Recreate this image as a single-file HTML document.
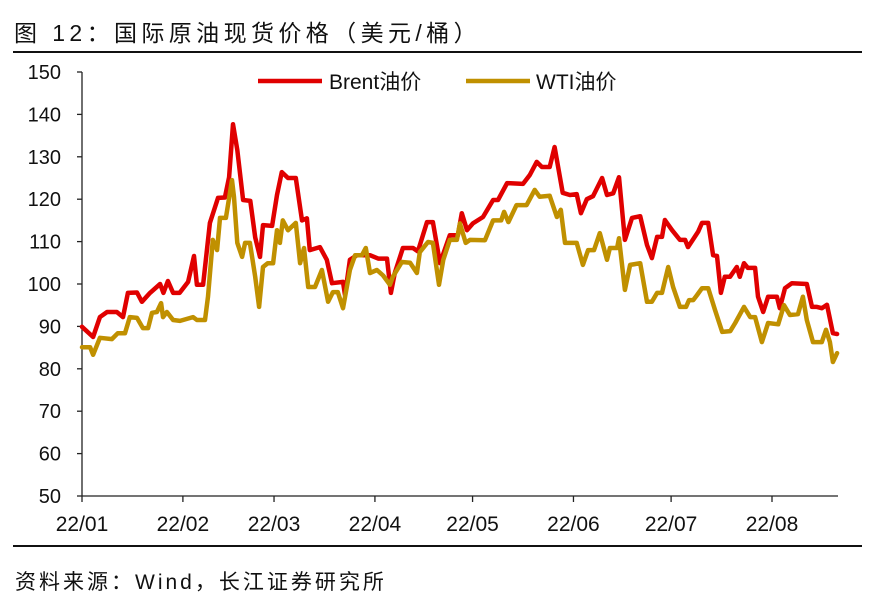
<!DOCTYPE html>
<html><head><meta charset="utf-8">
<style>
body{margin:0;background:#fff;width:878px;height:609px;overflow:hidden;font-family:"Liberation Sans","Noto Sans CJK SC",sans-serif;}
svg text{font-family:"Liberation Sans","Noto Sans CJK SC",sans-serif;}
</style></head>
<body>
<svg id="chart" width="878" height="609">
  <text x="14" y="41" font-size="23" letter-spacing="4.4" fill="#111">图 12：国际原油现货价格（美元/桶）</text>
  <line x1="13" y1="52" x2="862" y2="52" stroke="#111" stroke-width="2"/>
  <line x1="13" y1="546" x2="862" y2="546" stroke="#111" stroke-width="2"/>
  <text x="15" y="589" font-size="21" letter-spacing="3" fill="#111">资料来源：Wind，长江证券研究所</text>
  <g id="axes"></g>
  <g id="series"></g>
  <g>
    <line x1="258" y1="81" x2="322" y2="81" stroke="#e00000" stroke-width="4.5"/>
    <text x="329" y="89" font-size="21" fill="#111">Brent油价</text>
    <line x1="466" y1="81" x2="530" y2="81" stroke="#c09000" stroke-width="4.5"/>
    <text x="536" y="89" font-size="21" fill="#111">WTI油价</text>
  </g>
</svg>
<script>
const yTicks=[50,60,70,80,90,100,110,120,130,140,150];
const monthLabels=["22/01","22/02","22/03","22/04","22/05","22/06","22/07","22/08"];
const monthDays=[0,31,59,90,120,151,181,212];
const brentDays=[0,3.4,5.5,7.7,10.7,12.6,14.1,16.9,18.4,20.9,24,25,26.4,28,30,32.6,34.4,35.3,37.2,39.3,41.8,43.9,45.2,46.4,47.7,49.5,51.7,53.2,54.7,55.6,58.4,59.9,61.4,63.3,65.7,67.6,69.1,70,73.1,75.2,76.8,80.2,80.8,82.3,84.5,88.5,91,93.7,94.9,96.1,98.6,101.7,103.2,106,107.8,110,113,115.5,116.7,118.3,120.1,123.2,126.3,127.8,130.6,135.5,137.6,139.7,141.3,143.7,145.2,147.7,149.9,152,153.3,155.1,157,159.8,161.3,163.2,165,166.8,169,171.5,173.6,175.1,176.7,178.2,179.1,181.3,183.7,185.3,186.2,189.3,190.5,192.4,193.9,195.1,196.3,197.5,199.1,201.2,202.1,203.4,204.6,206.8,207.7,209.3,210.8,213.5,214.4,216,218.1,222.7,224.3,225.8,227.3,228.9,230.7,232];
const brentVals=[89.9,87.5,92.2,93.4,93.4,92.2,97.9,98,95.8,97.9,100,97.9,100.7,97.9,97.9,100.5,106.6,99.8,99.8,114.4,120.3,120.4,125.2,137.7,131.6,119.8,119.6,111,106.4,113.9,113.7,121,126.4,125,125,115,115.5,108,108.7,105.7,100.2,100.5,97.4,105.7,106.8,106.8,106,106,97.9,102.6,108.5,108.5,107.7,114.6,114.6,104.9,111.5,111.5,116.7,112.7,114.3,115.8,119.8,119.8,123.8,123.6,125.7,128.8,127.6,127.6,132.3,121.5,121,121.2,116.7,120,120.7,125,121,121.4,125.2,110.4,115.6,116,109.2,106.1,111.1,111.1,115.1,112.7,110.4,110.4,108.7,112.3,114.4,114.4,106.8,106.6,97.9,101.7,101.7,104,101.7,104.9,103.8,103.8,97,93.4,97,97,94.3,99,100.2,100,94.6,94.6,94.3,95.1,88.4,88.2];
const wtiDays=[0,2.5,3.4,5.5,9.2,11,13.2,14.7,16.9,18.7,20.3,21.5,23,24.3,24.9,26.1,28,30.1,34.1,35.3,37.8,38.7,40.2,41.5,42.4,44.2,46.1,46.7,47.7,49.2,50.1,51.6,53.2,54.4,55.6,57.1,58.7,59.9,60.8,61.7,63.3,65.7,67,68.2,69.5,71.6,73.7,75.6,77.1,78.6,80.2,82.3,83.9,86,87.2,88.5,90.6,92.5,94.6,95.5,98.3,100.8,102.9,103.8,106.3,107.8,109.7,111,113,115.2,116.1,117.9,119.2,123.8,126.3,128.8,129.7,131,133.5,136.6,139.1,140.6,143.7,145.9,147.1,148.4,152,153.9,155.5,157.3,159.1,161.3,162.2,164.4,165,166.8,168.4,171.5,173.6,175.1,176.7,178.2,180.1,181.6,183.7,185.6,186.5,187.8,189,190.5,192.4,194.5,196.7,199.2,200.7,203.4,205.3,206.8,208.9,210.8,213.9,215.7,217.5,220,221.5,222.7,224.6,227.3,228.6,229.8,230.7,232];
const wtiVals=[85.1,85.1,83.3,87.3,87,88.4,88.4,92.2,92,89.6,89.6,93.2,93.4,95.5,92.2,93.4,91.5,91.3,92.2,91.5,91.5,97,110.4,108,115.6,115.6,124.5,120.5,109.7,106.4,109.7,109.7,101.7,94.6,104,104.9,104.9,112.7,109.7,115,112.7,114.4,104.9,108.5,99.3,99.3,103.3,95.8,98.1,98.1,94.3,103.3,106.8,106.8,108.5,102.6,103.3,102,99.8,101.7,105.2,105,102.6,107.5,109.9,109.7,99.8,105.7,110.4,110.4,114.3,109.7,110.4,110.3,115,115,117,114.6,118.6,118.6,122.2,120.6,120.8,115.8,117.5,109.7,109.7,104.5,108,108,112,105.7,108.5,108.5,110.8,98.6,104.5,104.9,95.8,95.8,97.9,97.9,104,99.3,94.6,94.6,96.2,96.2,97.4,99,99,93.9,88.7,88.9,90.8,94.6,92.2,92.2,86.3,90.8,90.5,95,92.7,92.9,97,91.5,86.3,86.3,89.2,86.3,81.6,83.7];

const NS="http://www.w3.org/2000/svg";
const X0=82,Y0=496,YT=72;
const xScale=d=>X0+d*(690/212);
const yScale=v=>Y0-(v-50)*(Y0-YT)/100;
const axes=document.getElementById('axes');
const series=document.getElementById('series');
function mk(tag,attrs,parent){const e=document.createElementNS(NS,tag);for(const k in attrs)e.setAttribute(k,attrs[k]);parent.appendChild(e);return e;}

const ya=mk('line',{x1:X0,y1:YT,x2:X0,y2:Y0,stroke:'#222','stroke-width':1.3},axes);


const xa=mk('line',{x1:X0,y1:Y0,x2:838,y2:Y0,stroke:'#222','stroke-width':1.3},axes);



yTicks.forEach(v=>{
  const y=yScale(v);
  const t=mk('line',{x1:X0-5,y1:y,x2:X0,y2:y,stroke:'#222','stroke-width':1.3},axes);
  
  
  const l=mk('text',{x:61,y:y+7,'text-anchor':'end','font-size':20,fill:'#111'},axes);
  l.textContent=v;
  
  
});
monthLabels.forEach((m,i)=>{
  const x=xScale(monthDays[i]);
  const t=mk('line',{x1:x,y1:Y0,x2:x,y2:Y0+6,stroke:'#222','stroke-width':1.3},axes);
  
  
  const l=mk('text',{x:x,y:531,'text-anchor':'middle','font-size':21,fill:'#111'},axes);
  l.textContent=m;
  
  
});
function drawLine(days,vals,color,name){
  const d=days.map((dd,i)=>(i?'L':'M')+xScale(dd).toFixed(1)+','+yScale(vals[i]).toFixed(1)).join(' ');
  const p=mk('path',{d:d,fill:'none',stroke:color,'stroke-width':4.5,'stroke-linejoin':'round','stroke-linecap':'round'},series);
  
  
}
drawLine(brentDays,brentVals,'#e00000','brent-line');
drawLine(wtiDays,wtiVals,'#c09000','wti-line');
</script>
</body></html>
